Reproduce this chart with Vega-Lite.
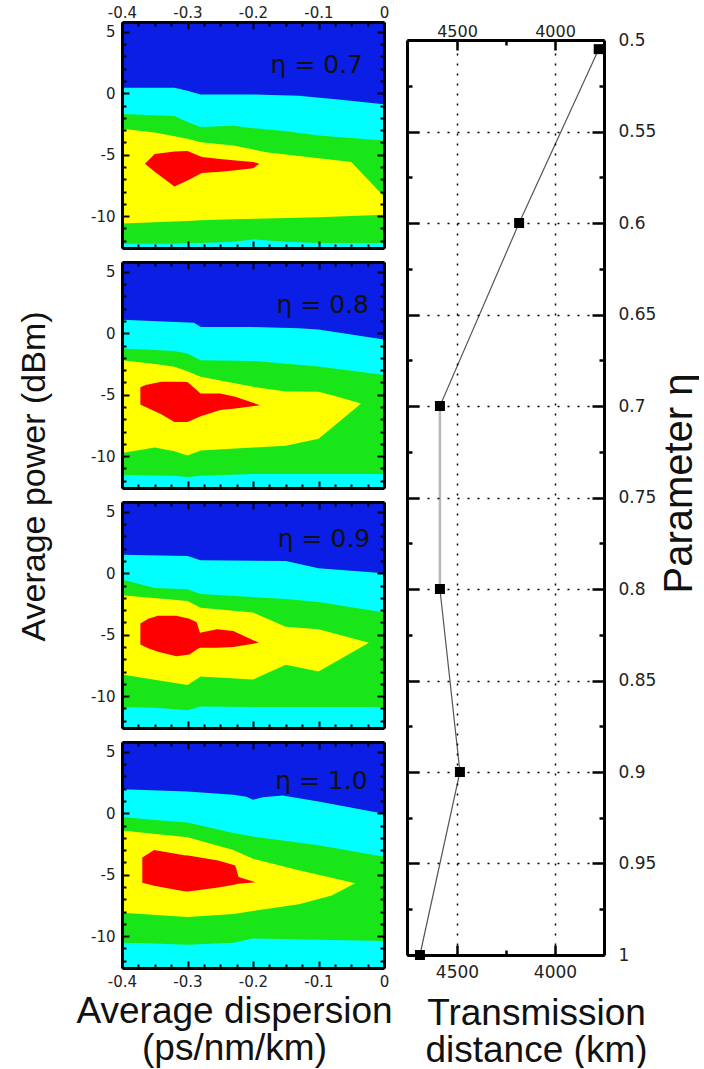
{
"$schema": "https://vega.github.io/schema/vega-lite/v6.json",
"padding": {"left": 16, "top": 2, "right": 0, "bottom": 0},
"config": {
  "view": {"stroke": null},
  "axis": {"zindex": 1, "domainColor": "#000", "tickColor": "#000", "labelColor": "#222", "labelFont": "DejaVu Sans", "titleFont": "Liberation Sans", "titleFontWeight": "normal", "titleColor": "#111", "grid": false}
},
"datasets": {
  "bands": [
    {"eta":0.7,"level":"cyan","x":-0.4,"top":0.45,"bottom":-12.6},
    {"eta":0.7,"level":"cyan","x":-0.32,"top":0.45,"bottom":-12.6},
    {"eta":0.7,"level":"cyan","x":-0.3,"top":0.2,"bottom":-12.6},
    {"eta":0.7,"level":"cyan","x":-0.28,"top":-0.1,"bottom":-12.6},
    {"eta":0.7,"level":"cyan","x":-0.2,"top":-0.1,"bottom":-12.6},
    {"eta":0.7,"level":"cyan","x":-0.13,"top":-0.2,"bottom":-12.6},
    {"eta":0.7,"level":"cyan","x":-0.07,"top":-0.5,"bottom":-12.6},
    {"eta":0.7,"level":"cyan","x":0,"top":-0.9,"bottom":-12.6},
    {"eta":0.7,"level":"green","x":-0.4,"top":-1.7,"bottom":-12.25},
    {"eta":0.7,"level":"green","x":-0.32,"top":-1.85,"bottom":-12.25},
    {"eta":0.7,"level":"green","x":-0.3,"top":-2.35,"bottom":-12.2},
    {"eta":0.7,"level":"green","x":-0.28,"top":-2.75,"bottom":-12.2},
    {"eta":0.7,"level":"green","x":-0.23,"top":-2.65,"bottom":-12.1},
    {"eta":0.7,"level":"green","x":-0.2,"top":-2.85,"bottom":-11.9},
    {"eta":0.7,"level":"green","x":-0.15,"top":-3.1,"bottom":-12.1},
    {"eta":0.7,"level":"green","x":-0.1,"top":-3.45,"bottom":-12.2},
    {"eta":0.7,"level":"green","x":0,"top":-3.85,"bottom":-12.2},
    {"eta":0.7,"level":"yellow","x":-0.4,"top":-2.9,"bottom":-10.6},
    {"eta":0.7,"level":"yellow","x":-0.35,"top":-3.2,"bottom":-10.5},
    {"eta":0.7,"level":"yellow","x":-0.3,"top":-3.7,"bottom":-10.4},
    {"eta":0.7,"level":"yellow","x":-0.28,"top":-4.0,"bottom":-10.35},
    {"eta":0.7,"level":"yellow","x":-0.23,"top":-4.25,"bottom":-10.25},
    {"eta":0.7,"level":"yellow","x":-0.18,"top":-4.8,"bottom":-10.2},
    {"eta":0.7,"level":"yellow","x":-0.1,"top":-5.3,"bottom":-10.1},
    {"eta":0.7,"level":"yellow","x":-0.05,"top":-5.6,"bottom":-10.0},
    {"eta":0.7,"level":"yellow","x":0,"top":-8.4,"bottom":-9.9},
    {"eta":0.7,"level":"red","x":-0.365,"top":-5.75,"bottom":-5.75},
    {"eta":0.7,"level":"red","x":-0.35,"top":-4.95,"bottom":-6.4},
    {"eta":0.7,"level":"red","x":-0.32,"top":-4.75,"bottom":-7.6},
    {"eta":0.7,"level":"red","x":-0.3,"top":-4.7,"bottom":-7.1},
    {"eta":0.7,"level":"red","x":-0.278,"top":-5.2,"bottom":-6.5},
    {"eta":0.7,"level":"red","x":-0.25,"top":-5.35,"bottom":-6.4},
    {"eta":0.7,"level":"red","x":-0.23,"top":-5.45,"bottom":-6.3},
    {"eta":0.7,"level":"red","x":-0.2,"top":-5.6,"bottom":-6.1},
    {"eta":0.7,"level":"red","x":-0.19,"top":-5.75,"bottom":-5.75},

    {"eta":0.8,"level":"cyan","x":-0.4,"top":1.1,"bottom":-12.6},
    {"eta":0.8,"level":"cyan","x":-0.29,"top":0.85,"bottom":-12.6},
    {"eta":0.8,"level":"cyan","x":-0.28,"top":0.5,"bottom":-12.6},
    {"eta":0.8,"level":"cyan","x":-0.2,"top":0.5,"bottom":-12.6},
    {"eta":0.8,"level":"cyan","x":-0.13,"top":0.4,"bottom":-12.6},
    {"eta":0.8,"level":"cyan","x":-0.1,"top":0.3,"bottom":-12.6},
    {"eta":0.8,"level":"cyan","x":0,"top":-0.5,"bottom":-12.6},
    {"eta":0.8,"level":"green","x":-0.4,"top":-1.25,"bottom":-11.55},
    {"eta":0.8,"level":"green","x":-0.32,"top":-1.45,"bottom":-11.6},
    {"eta":0.8,"level":"green","x":-0.3,"top":-1.65,"bottom":-11.7},
    {"eta":0.8,"level":"green","x":-0.28,"top":-2.2,"bottom":-11.6},
    {"eta":0.8,"level":"green","x":-0.2,"top":-2.25,"bottom":-11.45},
    {"eta":0.8,"level":"green","x":-0.1,"top":-2.7,"bottom":-11.45},
    {"eta":0.8,"level":"green","x":0,"top":-3.4,"bottom":-11.45},
    {"eta":0.8,"level":"yellow","x":-0.4,"top":-2.2,"bottom":-9.75},
    {"eta":0.8,"level":"yellow","x":-0.35,"top":-2.5,"bottom":-9.3},
    {"eta":0.8,"level":"yellow","x":-0.32,"top":-2.72,"bottom":-9.6},
    {"eta":0.8,"level":"yellow","x":-0.3,"top":-3.1,"bottom":-9.95},
    {"eta":0.8,"level":"yellow","x":-0.28,"top":-3.55,"bottom":-9.55},
    {"eta":0.8,"level":"yellow","x":-0.2,"top":-4.36,"bottom":-9.3},
    {"eta":0.8,"level":"yellow","x":-0.15,"top":-4.75,"bottom":-9.15},
    {"eta":0.8,"level":"yellow","x":-0.1,"top":-4.77,"bottom":-8.6},
    {"eta":0.8,"level":"yellow","x":-0.075,"top":-5.1,"bottom":-7.5},
    {"eta":0.8,"level":"yellow","x":-0.035,"top":-5.72,"bottom":-5.72},
    {"eta":0.8,"level":"red","x":-0.372,"top":-4.4,"bottom":-5.8},
    {"eta":0.8,"level":"red","x":-0.364,"top":-4.22,"bottom":-6.0},
    {"eta":0.8,"level":"red","x":-0.34,"top":-3.95,"bottom":-6.6},
    {"eta":0.8,"level":"red","x":-0.32,"top":-3.95,"bottom":-7.22},
    {"eta":0.8,"level":"red","x":-0.3,"top":-3.98,"bottom":-7.22},
    {"eta":0.8,"level":"red","x":-0.28,"top":-4.9,"bottom":-6.75},
    {"eta":0.8,"level":"red","x":-0.25,"top":-4.9,"bottom":-6.25},
    {"eta":0.8,"level":"red","x":-0.227,"top":-5.18,"bottom":-6.13},
    {"eta":0.8,"level":"red","x":-0.189,"top":-5.86,"bottom":-5.86},

    {"eta":0.9,"level":"cyan","x":-0.4,"top":1.5,"bottom":-12.6},
    {"eta":0.9,"level":"cyan","x":-0.3,"top":1.4,"bottom":-12.6},
    {"eta":0.9,"level":"cyan","x":-0.28,"top":1.05,"bottom":-12.6},
    {"eta":0.9,"level":"cyan","x":-0.15,"top":1.0,"bottom":-12.6},
    {"eta":0.9,"level":"cyan","x":-0.1,"top":0.4,"bottom":-12.6},
    {"eta":0.9,"level":"cyan","x":0,"top":0.0,"bottom":-12.6},
    {"eta":0.9,"level":"green","x":-0.4,"top":-0.5,"bottom":-10.9},
    {"eta":0.9,"level":"green","x":-0.35,"top":-1.2,"bottom":-10.95},
    {"eta":0.9,"level":"green","x":-0.3,"top":-1.3,"bottom":-11.15},
    {"eta":0.9,"level":"green","x":-0.28,"top":-1.7,"bottom":-10.85},
    {"eta":0.9,"level":"green","x":-0.15,"top":-2.1,"bottom":-10.9},
    {"eta":0.9,"level":"green","x":-0.1,"top":-2.35,"bottom":-10.9},
    {"eta":0.9,"level":"green","x":0,"top":-3.2,"bottom":-10.9},
    {"eta":0.9,"level":"yellow","x":-0.4,"top":-1.8,"bottom":-8.25},
    {"eta":0.9,"level":"yellow","x":-0.3,"top":-2.25,"bottom":-9.1},
    {"eta":0.9,"level":"yellow","x":-0.28,"top":-2.8,"bottom":-8.4},
    {"eta":0.9,"level":"yellow","x":-0.2,"top":-3.2,"bottom":-8.65},
    {"eta":0.9,"level":"yellow","x":-0.15,"top":-4.35,"bottom":-7.45},
    {"eta":0.9,"level":"yellow","x":-0.1,"top":-4.55,"bottom":-8.0},
    {"eta":0.9,"level":"yellow","x":-0.023,"top":-5.66,"bottom":-5.66},
    {"eta":0.9,"level":"red","x":-0.372,"top":-4.1,"bottom":-5.8},
    {"eta":0.9,"level":"red","x":-0.36,"top":-3.7,"bottom":-6.1},
    {"eta":0.9,"level":"red","x":-0.345,"top":-3.46,"bottom":-6.4},
    {"eta":0.9,"level":"red","x":-0.317,"top":-3.46,"bottom":-6.76},
    {"eta":0.9,"level":"red","x":-0.297,"top":-3.7,"bottom":-6.62},
    {"eta":0.9,"level":"red","x":-0.286,"top":-4.0,"bottom":-6.2},
    {"eta":0.9,"level":"red","x":-0.281,"top":-4.84,"bottom":-6.07},
    {"eta":0.9,"level":"red","x":-0.255,"top":-4.56,"bottom":-6.07},
    {"eta":0.9,"level":"red","x":-0.23,"top":-4.7,"bottom":-6.0},
    {"eta":0.9,"level":"red","x":-0.191,"top":-5.66,"bottom":-5.66},

    {"eta":1.0,"level":"cyan","x":-0.4,"top":1.95,"bottom":-12.6},
    {"eta":1.0,"level":"cyan","x":-0.3,"top":1.78,"bottom":-12.6},
    {"eta":1.0,"level":"cyan","x":-0.23,"top":1.5,"bottom":-12.6},
    {"eta":1.0,"level":"cyan","x":-0.21,"top":1.35,"bottom":-12.6},
    {"eta":1.0,"level":"cyan","x":-0.2,"top":1.1,"bottom":-12.6},
    {"eta":1.0,"level":"cyan","x":-0.185,"top":1.3,"bottom":-12.6},
    {"eta":1.0,"level":"cyan","x":-0.155,"top":1.45,"bottom":-12.6},
    {"eta":1.0,"level":"cyan","x":-0.1,"top":0.95,"bottom":-12.6},
    {"eta":1.0,"level":"cyan","x":0,"top":-0.05,"bottom":-12.6},
    {"eta":1.0,"level":"green","x":-0.4,"top":-0.3,"bottom":-10.55},
    {"eta":1.0,"level":"green","x":-0.35,"top":-0.55,"bottom":-10.6},
    {"eta":1.0,"level":"green","x":-0.3,"top":-0.75,"bottom":-10.7},
    {"eta":1.0,"level":"green","x":-0.23,"top":-1.6,"bottom":-10.55},
    {"eta":1.0,"level":"green","x":-0.2,"top":-1.9,"bottom":-10.2},
    {"eta":1.0,"level":"green","x":-0.1,"top":-2.6,"bottom":-10.3},
    {"eta":1.0,"level":"green","x":0,"top":-3.55,"bottom":-10.4},
    {"eta":1.0,"level":"yellow","x":-0.4,"top":-1.4,"bottom":-8.1},
    {"eta":1.0,"level":"yellow","x":-0.3,"top":-1.95,"bottom":-8.45},
    {"eta":1.0,"level":"yellow","x":-0.23,"top":-3.0,"bottom":-8.2},
    {"eta":1.0,"level":"yellow","x":-0.2,"top":-3.7,"bottom":-7.95},
    {"eta":1.0,"level":"yellow","x":-0.13,"top":-4.65,"bottom":-7.4},
    {"eta":1.0,"level":"yellow","x":-0.08,"top":-5.25,"bottom":-6.7},
    {"eta":1.0,"level":"yellow","x":-0.044,"top":-5.7,"bottom":-5.7},
    {"eta":1.0,"level":"red","x":-0.369,"top":-3.6,"bottom":-5.65},
    {"eta":1.0,"level":"red","x":-0.351,"top":-3.0,"bottom":-5.9},
    {"eta":1.0,"level":"red","x":-0.305,"top":-3.42,"bottom":-6.35},
    {"eta":1.0,"level":"red","x":-0.299,"top":-3.45,"bottom":-6.38},
    {"eta":1.0,"level":"red","x":-0.253,"top":-3.84,"bottom":-6.05},
    {"eta":1.0,"level":"red","x":-0.227,"top":-4.25,"bottom":-5.8},
    {"eta":1.0,"level":"red","x":-0.222,"top":-5.2,"bottom":-5.75},
    {"eta":1.0,"level":"red","x":-0.196,"top":-5.62,"bottom":-5.62}
  ],
  "labels": [
    {"eta":0.7,"lx":-0.032,"ly":2.3,"label":"η = 0.7"},
    {"eta":0.8,"lx":-0.023,"ly":2.3,"label":"η = 0.8"},
    {"eta":0.9,"lx":-0.021,"ly":2.8,"label":"η = 0.9"},
    {"eta":1.0,"lx":-0.025,"ly":2.6,"label":"η = 1.0"}
  ],
  "dist": [
    {"eta":0.505,"dist":3777},
    {"eta":0.6,"dist":4183},
    {"eta":0.7,"dist":4587},
    {"eta":0.8,"dist":4587},
    {"eta":0.9,"dist":4485},
    {"eta":1.0,"dist":4689}
  ]
},
"hconcat": [
  {
    "spacing": 14,
    "bounds": "flush",
    "vconcat": [
      {
        "width": 262, "height": 226,
        "view": {"fill": "#0a1ee6", "stroke": null},
        "data": {"name": "bands"},
        "transform": [{"filter": "datum.eta == 0.7"}],
        "resolve": {"axis": {"x": "independent", "y": "independent"}},
        "layer": [
          {"transform": [{"filter": "datum.level == 'cyan'"}], "mark": {"type": "area", "color": "#00ffff", "clip": true, "opacity": 1},
           "encoding": {
             "x": {"field": "x", "type": "quantitative", "scale": {"domain": [-0.4, 0], "nice": false}, "axis": {"zindex": 2, "orient": "bottom", "labels": false, "title": null, "values": [-0.4,-0.375,-0.35,-0.325,-0.3,-0.275,-0.25,-0.225,-0.2,-0.175,-0.15,-0.125,-0.1,-0.075,-0.05,-0.025,0], "tickSize": {"condition": {"test": "abs(datum.value*10 - round(datum.value*10)) < 0.001", "value": -7}, "value": -4}, "tickWidth": 2, "domainWidth": 3}},
             "y": {"field": "top", "type": "quantitative", "scale": {"domain": [-12.6, 5.8], "nice": false, "zero": false}, "axis": {"zindex": 2, "orient": "left", "title": null, "values": [-12,-11,-10,-9,-8,-7,-6,-5,-4,-3,-2,-1,0,1,2,3,4,5], "tickSize": {"condition": {"test": "datum.value % 5 == 0", "value": -7}, "value": -4}, "tickWidth": 2, "domainWidth": 3, "labelFontSize": 15, "labelPadding": 14, "labelOverlap": false, "labelExpr": "datum.value % 5 == 0 ? (datum.value < 0 ? '-' + abs(datum.value) : '' + datum.value) : ''"}},
             "y2": {"field": "bottom"}
           }},
          {"transform": [{"filter": "datum.level == 'green'"}], "mark": {"type": "area", "color": "#19e619", "clip": true, "opacity": 1},
           "encoding": {
             "x": {"field": "x", "type": "quantitative", "scale": {"domain": [-0.4, 0], "nice": false}, "axis": {"zindex": 2, "orient": "top", "title": null, "values": [-0.4,-0.375,-0.35,-0.325,-0.3,-0.275,-0.25,-0.225,-0.2,-0.175,-0.15,-0.125,-0.1,-0.075,-0.05,-0.025,0], "tickSize": {"condition": {"test": "abs(datum.value*10 - round(datum.value*10)) < 0.001", "value": -7}, "value": -4}, "tickWidth": 2, "domainWidth": 3, "labelFontSize": 15, "labelPadding": 9, "labelFlush": false, "labelOverlap": false, "labelExpr": "abs(datum.value*10 - round(datum.value*10)) > 0.001 ? '' : (datum.value == 0 ? '0' : '-' + format(abs(datum.value), '.1f'))"}},
             "y": {"field": "top", "type": "quantitative", "scale": {"domain": [-12.6, 5.8], "nice": false, "zero": false}, "axis": {"zindex": 2, "orient": "right", "title": null, "labels": false, "values": [-12,-11,-10,-9,-8,-7,-6,-5,-4,-3,-2,-1,0,1,2,3,4,5], "tickSize": {"condition": {"test": "datum.value % 5 == 0", "value": -7}, "value": -4}, "tickWidth": 2, "domainWidth": 3}},
             "y2": {"field": "bottom"}
           }},
          {"transform": [{"filter": "datum.level == 'yellow'"}], "mark": {"type": "area", "color": "#ffff00", "clip": true, "opacity": 1},
           "encoding": {"x": {"field": "x", "type": "quantitative", "scale": {"domain": [-0.4, 0], "nice": false}, "axis": null}, "y": {"field": "top", "type": "quantitative", "scale": {"domain": [-12.6, 5.8], "nice": false, "zero": false}, "axis": null}, "y2": {"field": "bottom"}}},
          {"transform": [{"filter": "datum.level == 'red'"}], "mark": {"type": "area", "color": "#ff0000", "clip": true, "opacity": 1},
           "encoding": {"x": {"field": "x", "type": "quantitative", "scale": {"domain": [-0.4, 0], "nice": false}, "axis": null}, "y": {"field": "top", "type": "quantitative", "scale": {"domain": [-12.6, 5.8], "nice": false, "zero": false}, "axis": null}, "y2": {"field": "bottom"}}},
          {"data": {"name": "labels"}, "transform": [{"filter": "datum.eta == 0.7"}], "mark": {"type": "text", "align": "right", "baseline": "middle", "font": "DejaVu Sans", "fontSize": 25, "color": "#111"},
           "encoding": {"x": {"field": "lx", "type": "quantitative", "scale": {"domain": [-0.4, 0], "nice": false}, "axis": null}, "y": {"field": "ly", "type": "quantitative", "scale": {"domain": [-12.6, 5.8], "nice": false, "zero": false}, "axis": null}, "text": {"field": "label"}}}
        ]
      },
      {
        "width": 262, "height": 226,
        "view": {"fill": "#0a1ee6", "stroke": null},
        "data": {"name": "bands"},
        "transform": [{"filter": "datum.eta == 0.8"}],
        "resolve": {"axis": {"x": "independent", "y": "independent"}},
        "layer": [
          {"transform": [{"filter": "datum.level == 'cyan'"}], "mark": {"type": "area", "color": "#00ffff", "clip": true, "opacity": 1},
           "encoding": {
             "x": {"field": "x", "type": "quantitative", "scale": {"domain": [-0.4, 0], "nice": false}, "axis": {"zindex": 2, "orient": "bottom", "labels": false, "title": null, "values": [-0.4,-0.375,-0.35,-0.325,-0.3,-0.275,-0.25,-0.225,-0.2,-0.175,-0.15,-0.125,-0.1,-0.075,-0.05,-0.025,0], "tickSize": {"condition": {"test": "abs(datum.value*10 - round(datum.value*10)) < 0.001", "value": -7}, "value": -4}, "tickWidth": 2, "domainWidth": 3}},
             "y": {"field": "top", "type": "quantitative", "scale": {"domain": [-12.6, 5.8], "nice": false, "zero": false}, "axis": {"zindex": 2, "orient": "left", "title": "Average power (dBm)", "titleFontSize": 34, "titleX": -88, "titleY": 214, "titleAngle": -90, "titleAlign": "center", "titleBaseline": "middle", "values": [-12,-11,-10,-9,-8,-7,-6,-5,-4,-3,-2,-1,0,1,2,3,4,5], "tickSize": {"condition": {"test": "datum.value % 5 == 0", "value": -7}, "value": -4}, "tickWidth": 2, "domainWidth": 3, "labelFontSize": 15, "labelPadding": 14, "labelOverlap": false, "labelExpr": "datum.value % 5 == 0 ? (datum.value < 0 ? '-' + abs(datum.value) : '' + datum.value) : ''"}},
             "y2": {"field": "bottom"}
           }},
          {"transform": [{"filter": "datum.level == 'green'"}], "mark": {"type": "area", "color": "#19e619", "clip": true, "opacity": 1},
           "encoding": {
             "x": {"field": "x", "type": "quantitative", "scale": {"domain": [-0.4, 0], "nice": false}, "axis": {"zindex": 2, "orient": "top", "title": null, "labels": false, "values": [-0.4,-0.375,-0.35,-0.325,-0.3,-0.275,-0.25,-0.225,-0.2,-0.175,-0.15,-0.125,-0.1,-0.075,-0.05,-0.025,0], "tickSize": {"condition": {"test": "abs(datum.value*10 - round(datum.value*10)) < 0.001", "value": -7}, "value": -4}, "tickWidth": 2, "domainWidth": 3}},
             "y": {"field": "top", "type": "quantitative", "scale": {"domain": [-12.6, 5.8], "nice": false, "zero": false}, "axis": {"zindex": 2, "orient": "right", "title": null, "labels": false, "values": [-12,-11,-10,-9,-8,-7,-6,-5,-4,-3,-2,-1,0,1,2,3,4,5], "tickSize": {"condition": {"test": "datum.value % 5 == 0", "value": -7}, "value": -4}, "tickWidth": 2, "domainWidth": 3}},
             "y2": {"field": "bottom"}
           }},
          {"transform": [{"filter": "datum.level == 'yellow'"}], "mark": {"type": "area", "color": "#ffff00", "clip": true, "opacity": 1},
           "encoding": {"x": {"field": "x", "type": "quantitative", "scale": {"domain": [-0.4, 0], "nice": false}, "axis": null}, "y": {"field": "top", "type": "quantitative", "scale": {"domain": [-12.6, 5.8], "nice": false, "zero": false}, "axis": null}, "y2": {"field": "bottom"}}},
          {"transform": [{"filter": "datum.level == 'red'"}], "mark": {"type": "area", "color": "#ff0000", "clip": true, "opacity": 1},
           "encoding": {"x": {"field": "x", "type": "quantitative", "scale": {"domain": [-0.4, 0], "nice": false}, "axis": null}, "y": {"field": "top", "type": "quantitative", "scale": {"domain": [-12.6, 5.8], "nice": false, "zero": false}, "axis": null}, "y2": {"field": "bottom"}}},
          {"data": {"name": "labels"}, "transform": [{"filter": "datum.eta == 0.8"}], "mark": {"type": "text", "align": "right", "baseline": "middle", "font": "DejaVu Sans", "fontSize": 25, "color": "#111"},
           "encoding": {"x": {"field": "lx", "type": "quantitative", "scale": {"domain": [-0.4, 0], "nice": false}, "axis": null}, "y": {"field": "ly", "type": "quantitative", "scale": {"domain": [-12.6, 5.8], "nice": false, "zero": false}, "axis": null}, "text": {"field": "label"}}}
        ]
      },
      {
        "width": 262, "height": 226,
        "view": {"fill": "#0a1ee6", "stroke": null},
        "data": {"name": "bands"},
        "transform": [{"filter": "datum.eta == 0.9"}],
        "resolve": {"axis": {"x": "independent", "y": "independent"}},
        "layer": [
          {"transform": [{"filter": "datum.level == 'cyan'"}], "mark": {"type": "area", "color": "#00ffff", "clip": true, "opacity": 1},
           "encoding": {
             "x": {"field": "x", "type": "quantitative", "scale": {"domain": [-0.4, 0], "nice": false}, "axis": {"zindex": 2, "orient": "bottom", "labels": false, "title": null, "values": [-0.4,-0.375,-0.35,-0.325,-0.3,-0.275,-0.25,-0.225,-0.2,-0.175,-0.15,-0.125,-0.1,-0.075,-0.05,-0.025,0], "tickSize": {"condition": {"test": "abs(datum.value*10 - round(datum.value*10)) < 0.001", "value": -7}, "value": -4}, "tickWidth": 2, "domainWidth": 3}},
             "y": {"field": "top", "type": "quantitative", "scale": {"domain": [-12.6, 5.8], "nice": false, "zero": false}, "axis": {"zindex": 2, "orient": "left", "title": null, "values": [-12,-11,-10,-9,-8,-7,-6,-5,-4,-3,-2,-1,0,1,2,3,4,5], "tickSize": {"condition": {"test": "datum.value % 5 == 0", "value": -7}, "value": -4}, "tickWidth": 2, "domainWidth": 3, "labelFontSize": 15, "labelPadding": 14, "labelOverlap": false, "labelExpr": "datum.value % 5 == 0 ? (datum.value < 0 ? '-' + abs(datum.value) : '' + datum.value) : ''"}},
             "y2": {"field": "bottom"}
           }},
          {"transform": [{"filter": "datum.level == 'green'"}], "mark": {"type": "area", "color": "#19e619", "clip": true, "opacity": 1},
           "encoding": {
             "x": {"field": "x", "type": "quantitative", "scale": {"domain": [-0.4, 0], "nice": false}, "axis": {"zindex": 2, "orient": "top", "title": null, "labels": false, "values": [-0.4,-0.375,-0.35,-0.325,-0.3,-0.275,-0.25,-0.225,-0.2,-0.175,-0.15,-0.125,-0.1,-0.075,-0.05,-0.025,0], "tickSize": {"condition": {"test": "abs(datum.value*10 - round(datum.value*10)) < 0.001", "value": -7}, "value": -4}, "tickWidth": 2, "domainWidth": 3}},
             "y": {"field": "top", "type": "quantitative", "scale": {"domain": [-12.6, 5.8], "nice": false, "zero": false}, "axis": {"zindex": 2, "orient": "right", "title": null, "labels": false, "values": [-12,-11,-10,-9,-8,-7,-6,-5,-4,-3,-2,-1,0,1,2,3,4,5], "tickSize": {"condition": {"test": "datum.value % 5 == 0", "value": -7}, "value": -4}, "tickWidth": 2, "domainWidth": 3}},
             "y2": {"field": "bottom"}
           }},
          {"transform": [{"filter": "datum.level == 'yellow'"}], "mark": {"type": "area", "color": "#ffff00", "clip": true, "opacity": 1},
           "encoding": {"x": {"field": "x", "type": "quantitative", "scale": {"domain": [-0.4, 0], "nice": false}, "axis": null}, "y": {"field": "top", "type": "quantitative", "scale": {"domain": [-12.6, 5.8], "nice": false, "zero": false}, "axis": null}, "y2": {"field": "bottom"}}},
          {"transform": [{"filter": "datum.level == 'red'"}], "mark": {"type": "area", "color": "#ff0000", "clip": true, "opacity": 1},
           "encoding": {"x": {"field": "x", "type": "quantitative", "scale": {"domain": [-0.4, 0], "nice": false}, "axis": null}, "y": {"field": "top", "type": "quantitative", "scale": {"domain": [-12.6, 5.8], "nice": false, "zero": false}, "axis": null}, "y2": {"field": "bottom"}}},
          {"data": {"name": "labels"}, "transform": [{"filter": "datum.eta == 0.9"}], "mark": {"type": "text", "align": "right", "baseline": "middle", "font": "DejaVu Sans", "fontSize": 25, "color": "#111"},
           "encoding": {"x": {"field": "lx", "type": "quantitative", "scale": {"domain": [-0.4, 0], "nice": false}, "axis": null}, "y": {"field": "ly", "type": "quantitative", "scale": {"domain": [-12.6, 5.8], "nice": false, "zero": false}, "axis": null}, "text": {"field": "label"}}}
        ]
      },
      {
        "width": 262, "height": 226,
        "view": {"fill": "#0a1ee6", "stroke": null},
        "data": {"name": "bands"},
        "transform": [{"filter": "datum.eta == 1.0"}],
        "resolve": {"axis": {"x": "independent", "y": "independent"}},
        "layer": [
          {"transform": [{"filter": "datum.level == 'cyan'"}], "mark": {"type": "area", "color": "#00ffff", "clip": true, "opacity": 1},
           "encoding": {
             "x": {"field": "x", "type": "quantitative", "scale": {"domain": [-0.4, 0], "nice": false}, "axis": {"zindex": 2, "orient": "bottom", "title": ["Average dispersion", "(ps/nm/km)"], "titleFontSize": 37, "titleLineHeight": 37, "titleX": 112, "titleY": 54, "titleAlign": "center", "titleBaseline": "alphabetic", "values": [-0.4,-0.375,-0.35,-0.325,-0.3,-0.275,-0.25,-0.225,-0.2,-0.175,-0.15,-0.125,-0.1,-0.075,-0.05,-0.025,0], "tickSize": {"condition": {"test": "abs(datum.value*10 - round(datum.value*10)) < 0.001", "value": -7}, "value": -4}, "tickWidth": 2, "domainWidth": 3, "labelFontSize": 15, "labelPadding": 13, "labelFlush": false, "labelOverlap": false, "labelExpr": "abs(datum.value*10 - round(datum.value*10)) > 0.001 ? '' : (datum.value == 0 ? '0' : '-' + format(abs(datum.value), '.1f'))"}},
             "y": {"field": "top", "type": "quantitative", "scale": {"domain": [-12.6, 5.8], "nice": false, "zero": false}, "axis": {"zindex": 2, "orient": "left", "title": null, "values": [-12,-11,-10,-9,-8,-7,-6,-5,-4,-3,-2,-1,0,1,2,3,4,5], "tickSize": {"condition": {"test": "datum.value % 5 == 0", "value": -7}, "value": -4}, "tickWidth": 2, "domainWidth": 3, "labelFontSize": 15, "labelPadding": 14, "labelOverlap": false, "labelExpr": "datum.value % 5 == 0 ? (datum.value < 0 ? '-' + abs(datum.value) : '' + datum.value) : ''"}},
             "y2": {"field": "bottom"}
           }},
          {"transform": [{"filter": "datum.level == 'green'"}], "mark": {"type": "area", "color": "#19e619", "clip": true, "opacity": 1},
           "encoding": {
             "x": {"field": "x", "type": "quantitative", "scale": {"domain": [-0.4, 0], "nice": false}, "axis": {"zindex": 2, "orient": "top", "title": null, "labels": false, "values": [-0.4,-0.375,-0.35,-0.325,-0.3,-0.275,-0.25,-0.225,-0.2,-0.175,-0.15,-0.125,-0.1,-0.075,-0.05,-0.025,0], "tickSize": {"condition": {"test": "abs(datum.value*10 - round(datum.value*10)) < 0.001", "value": -7}, "value": -4}, "tickWidth": 2, "domainWidth": 3}},
             "y": {"field": "top", "type": "quantitative", "scale": {"domain": [-12.6, 5.8], "nice": false, "zero": false}, "axis": {"zindex": 2, "orient": "right", "title": null, "labels": false, "values": [-12,-11,-10,-9,-8,-7,-6,-5,-4,-3,-2,-1,0,1,2,3,4,5], "tickSize": {"condition": {"test": "datum.value % 5 == 0", "value": -7}, "value": -4}, "tickWidth": 2, "domainWidth": 3}},
             "y2": {"field": "bottom"}
           }},
          {"transform": [{"filter": "datum.level == 'yellow'"}], "mark": {"type": "area", "color": "#ffff00", "clip": true, "opacity": 1},
           "encoding": {"x": {"field": "x", "type": "quantitative", "scale": {"domain": [-0.4, 0], "nice": false}, "axis": null}, "y": {"field": "top", "type": "quantitative", "scale": {"domain": [-12.6, 5.8], "nice": false, "zero": false}, "axis": null}, "y2": {"field": "bottom"}}},
          {"transform": [{"filter": "datum.level == 'red'"}], "mark": {"type": "area", "color": "#ff0000", "clip": true, "opacity": 1},
           "encoding": {"x": {"field": "x", "type": "quantitative", "scale": {"domain": [-0.4, 0], "nice": false}, "axis": null}, "y": {"field": "top", "type": "quantitative", "scale": {"domain": [-12.6, 5.8], "nice": false, "zero": false}, "axis": null}, "y2": {"field": "bottom"}}},
          {"data": {"name": "labels"}, "transform": [{"filter": "datum.eta == 1.0"}], "mark": {"type": "text", "align": "right", "baseline": "middle", "font": "DejaVu Sans", "fontSize": 25, "color": "#111"},
           "encoding": {"x": {"field": "lx", "type": "quantitative", "scale": {"domain": [-0.4, 0], "nice": false}, "axis": null}, "y": {"field": "ly", "type": "quantitative", "scale": {"domain": [-12.6, 5.8], "nice": false, "zero": false}, "axis": null}, "text": {"field": "label"}}}
        ]
      }
    ]
  },
  {
    "spacing": -5,
    "vconcat": [
      {"width": 197, "height": 1, "data": {"values": []}, "mark": "point", "view": {"stroke": null}},
      {
        "width": 197, "height": 915,
        "data": {"name": "dist"},
        "resolve": {"axis": {"x": "independent", "y": "independent"}},
        "layer": [
          {"mark": {"type": "line", "color": "#555", "strokeWidth": 1.2},
           "encoding": {
             "order": {"field": "eta", "type": "quantitative"},
             "x": {"field": "dist", "type": "quantitative", "scale": {"domain": [3750, 4755], "reverse": true, "nice": false, "zero": false}, "axis": {"zindex": 2, "orient": "bottom", "title": ["Transmission", "distance (km)"], "titleFontSize": 37, "titleLineHeight": 37, "titleX": 129, "titleY": 69, "titleAlign": "center", "titleBaseline": "alphabetic", "values": [4500, 4250, 4000], "grid": true, "gridColor": "#000", "gridDash": [2, 8], "gridWidth": 1.5, "gridOpacity": {"condition": {"test": "datum.value == 4250", "value": 0}, "value": 1}, "tickSize": {"condition": {"test": "datum.value == 4250", "value": -5}, "value": -10}, "tickWidth": 2.5, "domainWidth": 3, "labelFontSize": 17, "labelPadding": 19, "labelOverlap": false, "labelExpr": "datum.value == 4250 ? '' : '' + datum.value"}},
             "y": {"field": "eta", "type": "quantitative", "scale": {"domain": [0.5, 1], "reverse": true, "nice": false, "zero": false}, "axis": {"zindex": 2, "orient": "right", "title": "Parameter η", "titleFontSize": 40, "titleAngle": -90, "titleX": 75, "titleY": 443, "titleAlign": "center", "titleBaseline": "middle", "values": [0.5,0.525,0.55,0.575,0.6,0.625,0.65,0.675,0.7,0.725,0.75,0.775,0.8,0.825,0.85,0.875,0.9,0.925,0.95,0.975,1], "grid": true, "gridColor": "#000", "gridDash": [2, 8], "gridWidth": 1.5, "gridOpacity": {"condition": {"test": "abs(datum.value*20 - round(datum.value*20)) < 0.001", "value": 1}, "value": 0}, "tickSize": {"condition": {"test": "abs(datum.value*20 - round(datum.value*20)) < 0.001", "value": -12}, "value": -5}, "tickWidth": 2.5, "domainWidth": 3, "labelFontSize": 17, "labelPadding": 26, "labelOverlap": false, "labelBaseline": "middle", "labelExpr": "abs(datum.value*20 - round(datum.value*20)) > 0.001 ? '' : '' + datum.value"}}
           }},
          {"transform": [{"filter": "datum.eta >= 0.7 && datum.eta <= 0.8"}], "mark": {"type": "line", "color": "#b8b8b8", "strokeWidth": 2.5},
           "encoding": {
             "order": {"field": "eta", "type": "quantitative"},
             "x": {"field": "dist", "type": "quantitative", "scale": {"domain": [3750, 4755], "reverse": true, "nice": false, "zero": false}, "axis": {"zindex": 2, "orient": "top", "title": null, "values": [4500, 4250, 4000], "tickSize": {"condition": {"test": "datum.value == 4250", "value": -5}, "value": -10}, "tickWidth": 2.5, "domainWidth": 3, "labelFontSize": 16, "labelPadding": 11, "labelOverlap": false, "labelExpr": "datum.value == 4250 ? '' : '' + datum.value"}},
             "y": {"field": "eta", "type": "quantitative", "scale": {"domain": [0.5, 1], "reverse": true, "nice": false, "zero": false}, "axis": {"zindex": 2, "orient": "left", "title": null, "labels": false, "values": [0.5,0.525,0.55,0.575,0.6,0.625,0.65,0.675,0.7,0.725,0.75,0.775,0.8,0.825,0.85,0.875,0.9,0.925,0.95,0.975,1], "tickSize": {"condition": {"test": "abs(datum.value*20 - round(datum.value*20)) < 0.001", "value": -12}, "value": -5}, "tickWidth": 2.5, "domainWidth": 3}}
           }},
          {"mark": {"type": "point", "shape": "square", "filled": true, "color": "#000", "size": 100, "opacity": 1},
           "encoding": {
             "x": {"field": "dist", "type": "quantitative", "scale": {"domain": [3750, 4755], "reverse": true, "nice": false, "zero": false}, "axis": null},
             "y": {"field": "eta", "type": "quantitative", "scale": {"domain": [0.5, 1], "reverse": true, "nice": false, "zero": false}, "axis": null}
           }}
        ]
      }
    ]
  }
],
"spacing": 12
}
